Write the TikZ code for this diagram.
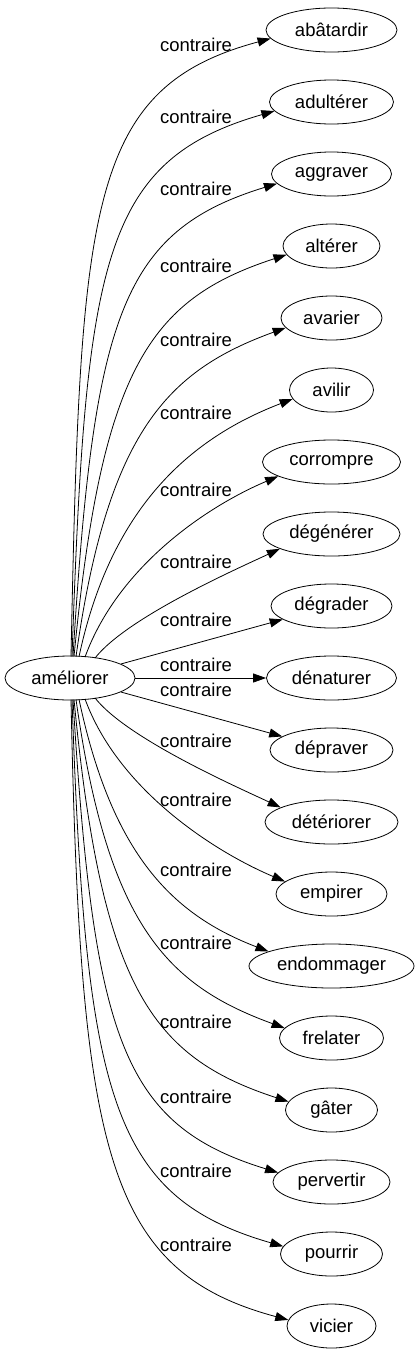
\documentclass[tikz,border=0pt]{standalone}
\usepackage{fontspec}
\setmainfont{Liberation Sans}
\usetikzlibrary{arrows.meta,shapes.geometric,calc}
\begin{document}
\begin{tikzpicture}[x=1pt,y=1pt,
  nd/.style={draw, ellipse, inner sep=0pt, minimum height=44pt, line width=0.8pt, font=\fontsize{18.5}{20}\selectfont},
  lbl/.style={inner sep=0pt, font=\fontsize{18.5}{20}\selectfont},
  edge/.style={line width=0.8pt, -{Triangle[length=13pt,width=9pt]}}]
\useasboundingbox (0,0) rectangle (419,-1355);
\node[nd, minimum width=130pt] (s) at (70,-678) {améliorer};
\foreach \txt/\w [count=\i from 0] in {abâtardir/131, adultérer/124, aggraver/120, altérer/97, avarier/101, avilir/84, corrompre/138, dégénérer/137, dégrader/121, dénaturer/130, dépraver/123, détériorer/133, empirer/111, endommager/165, frelater/104, gâter/92, pervertir/117, pourrir/102, vicier/89}{
  \node[nd, minimum width=\w pt] (t\i) at (331.5,{-30-72*\i}) {\txt};
}
\foreach \i/\ly in {0/45,1/117,2/189,3/266,4/340,5/413,6/490,7/562,8/620,9/665,10/690,11/741,12/800,13/870,14/943,15/1022,16/1097,17/1171,18/1245}{
  \node[lbl] (l\i) at (196,-\ly) {contraire};
}
\foreach \i/\dx/\h/\ao/\do/\ai/\di/\at in {
  0/1/21.5/88.8/450/195/190/188,
  1/2/21.5/88/395/196/180/189,
  2/3/21.5/86.5/340/197/163/190,
  3/4/21.5/84.5/288/198/145/191,
  4/6/21.4/82/228/200/125/192,
  5/9/21.3/78/160/201/102/193,
  6/15/20.9/70/95/203/80/195,
  7/25/19.9/52/51/205/50/196,
  11/25/-19.9/308/51/155/50/164,
  12/15/-20.9/290/95/157/80/165,
  13/9/-21.3/282/160/159/102/167,
  14/6/-21.4/278/228/160/125/168,
  15/4/-21.5/275.5/288/162/145/169,
  16/3/-21.5/273.5/340/163/163/170,
  17/2/-21.5/272/395/164/180/171,
  18/1/-21.5/271.2/450/165/190/172}{
  \draw[edge] ($(s.center)+(\dx,\h)$) .. controls +(\ao:\do) and +(\ai:\di) .. (t\i.\at);
}
\draw[edge] (s) -- (t8);
\draw[edge] (s) -- (t9);
\draw[edge] (s) -- (t10);
\end{tikzpicture}
\end{document}
